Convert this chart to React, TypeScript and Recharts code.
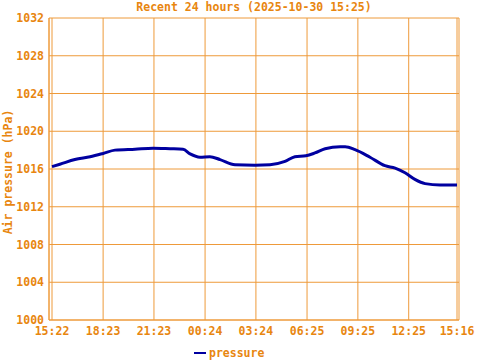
import React from "react";
import { LineChart, Line, XAxis, YAxis, CartesianGrid } from "recharts";

// minutes since 15:22 and pressure readings (hPa)
const minutes = [
  0, 28, 81, 135, 181, 223, 294, 358, 418, 464, 489, 524, 559, 595, 648, 719,
  772, 825, 860, 899, 931, 967, 1020, 1038, 1073, 1126, 1179, 1215, 1250,
  1285, 1321, 1374, 1434,
];
const pressure = [
  1016.25, 1016.5, 1017.0, 1017.3, 1017.65, 1018.0, 1018.1, 1018.2, 1018.15,
  1018.1, 1017.6, 1017.25, 1017.3, 1017.0, 1016.45, 1016.4, 1016.45, 1016.8,
  1017.3, 1017.4, 1017.7, 1018.15, 1018.35, 1018.35, 1018.05, 1017.25,
  1016.35, 1016.1, 1015.6, 1014.9, 1014.45, 1014.3, 1014.3,
];

const xTicks = [0, 181, 361, 542, 722, 903, 1083, 1263, 1434];
const xTickLabels = ["15:22", "18:23", "21:23", "00:24", "03:24", "06:25", "09:25", "12:25", "15:16"];
const yTicks = [1000, 1004, 1008, 1012, 1016, 1020, 1024, 1028, 1032];

const data = minutes.map((m, i) => ({ t: m, pressure: pressure[i] }));

const ORANGE = "#e8860f";
const GRID = "#ee9a3a";
const BLUE = "#0000a0";
const FONT = "'DejaVu Sans Mono', monospace";

const tickStyle = { fill: ORANGE, fontFamily: FONT, fontSize: 11.5, fontWeight: "bold" as const };

export default function App() {
  return (
    <div
      style={{
        position: "absolute",
        left: 0,
        top: 0,
        width: 480,
        height: 360,
        background: "#ffffff",
        fontFamily: FONT,
        fontWeight: "bold",
        color: ORANGE,
        fontSize: 11.5,
      }}
    >
      <div
        style={{
          position: "absolute",
          left: 54,
          width: 400,
          top: 0,
          lineHeight: "14px",
          textAlign: "center",
        }}
      >
        Recent 24 hours (2025-10-30 15:25)
      </div>
      <div
        style={{
          position: "absolute",
          left: -92,
          top: 165,
          width: 200,
          lineHeight: "14px",
          textAlign: "center",
          transform: "rotate(-90deg)",
        }}
      >
        Air pressure (hPa)
      </div>
      <LineChart
        width={480}
        height={360}
        data={data}
        margin={{ top: 18, right: 21, bottom: 20, left: 0 }}
      >
        <CartesianGrid stroke={GRID} strokeWidth={1} />
        <XAxis
          dataKey="t"
          type="number"
          domain={[0, 1434]}
          ticks={xTicks}
          tickFormatter={(v: number) => xTickLabels[xTicks.indexOf(v)] ?? ""}
          padding={{ left: 3, right: 2 }}
          height={20}
          tickLine={false}
          tickSize={0}
          tickMargin={7}
          axisLine={{ stroke: GRID }}
          tick={tickStyle}
          interval={0}
        />
        <XAxis
          xAxisId="top"
          orientation="top"
          dataKey="t"
          type="number"
          domain={[0, 1434]}
          height={0}
          tick={false}
          tickLine={false}
          axisLine={{ stroke: GRID }}
        />
        <YAxis
          domain={[1000, 1032]}
          ticks={yTicks}
          width={49}
          tickLine={false}
          tickSize={0}
          tickMargin={5}
          axisLine={{ stroke: GRID }}
          tick={tickStyle}
          interval={0}
        />
        <YAxis
          yAxisId="right"
          orientation="right"
          domain={[1000, 1032]}
          width={0}
          tick={false}
          tickLine={false}
          axisLine={{ stroke: GRID }}
        />
        <Line
          dataKey="pressure"
          stroke={BLUE}
          strokeWidth={3}
          dot={false}
          type="monotone"
          isAnimationActive={false}
        />
      </LineChart>
      <div
        style={{
          position: "absolute",
          left: 194,
          top: 346,
          display: "flex",
          alignItems: "center",
          lineHeight: "14px",
        }}
      >
        <span style={{ display: "inline-block", width: 12, height: 2, background: BLUE, marginRight: 3 }} />
        <span>pressure</span>
      </div>
    </div>
  );
}
